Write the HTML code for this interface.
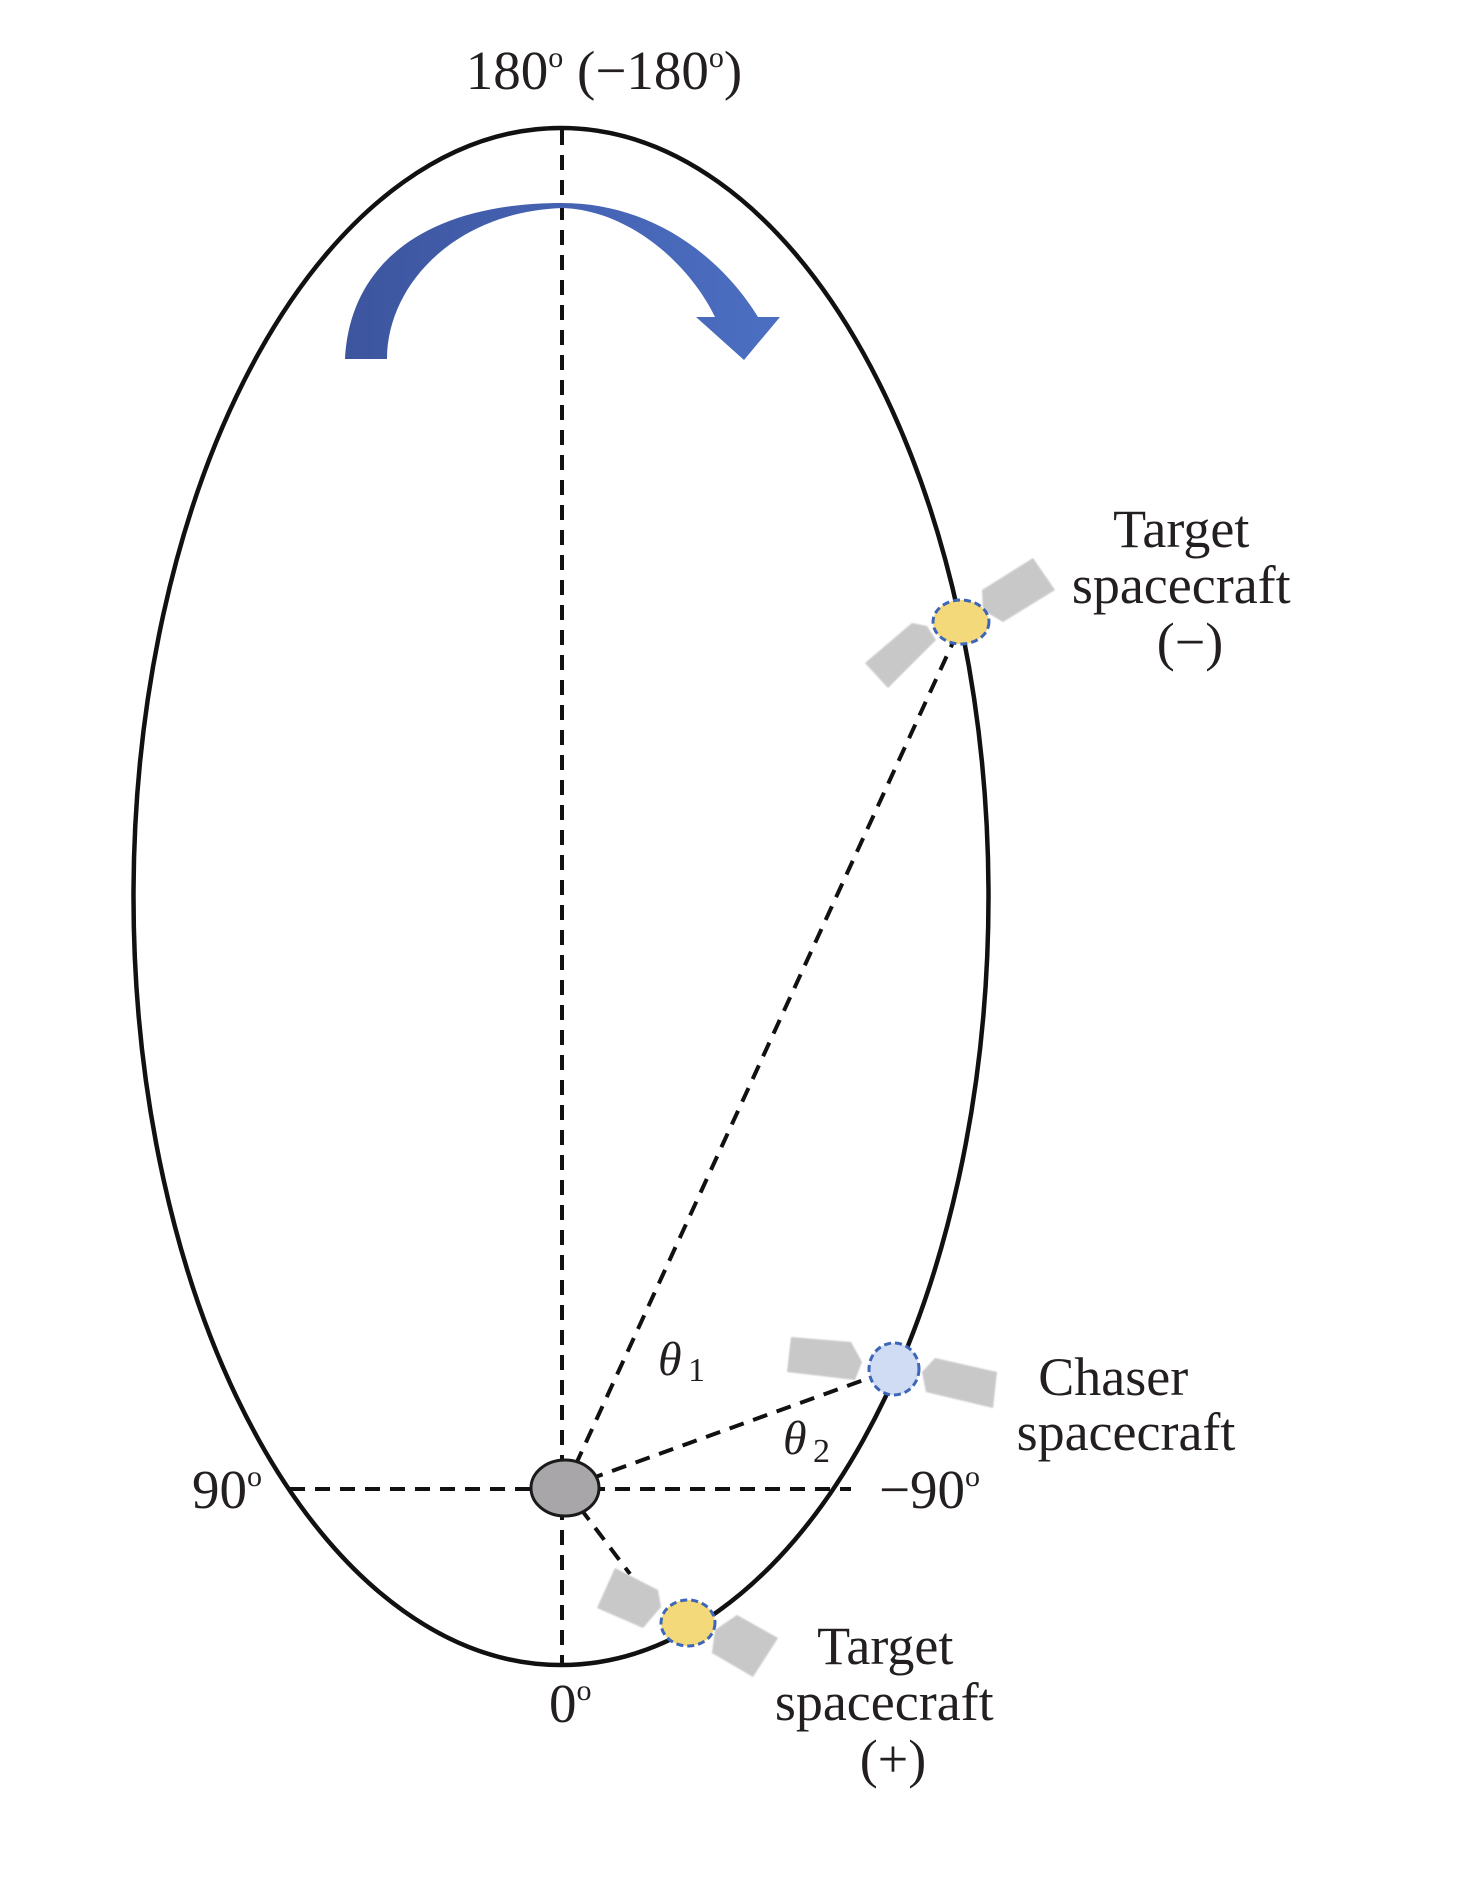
<!DOCTYPE html>
<html>
<head>
<meta charset="utf-8">
<style>
  html, body { margin:0; padding:0; background:#ffffff; }
  svg { display:block; }
  text { font-family: "Liberation Serif", "Times New Roman", serif; fill:#231f20; }
</style>
</head>
<body>
<svg width="1476" height="1892" viewBox="0 0 1476 1892" xmlns="http://www.w3.org/2000/svg">
  <defs>
    <linearGradient id="ag" x1="0" y1="0" x2="1" y2="0">
      <stop offset="0" stop-color="#3d559e"/>
      <stop offset="0.5" stop-color="#4562b2"/>
      <stop offset="1" stop-color="#4c6fc2"/>
    </linearGradient>
    <filter id="soft" x="-10%" y="-10%" width="120%" height="120%">
      <feGaussianBlur stdDeviation="0.8"/>
    </filter>
  </defs>
  <rect width="1476" height="1892" fill="#ffffff"/>

  <!-- Orbit ellipse -->
  <ellipse cx="561" cy="896.5" rx="427.5" ry="768.5" fill="none" stroke="#111" stroke-width="4.5"/>

  <!-- Dashed lines -->
  <g stroke="#111" stroke-width="4" stroke-dasharray="15 10" fill="none">
    <line x1="562" y1="130" x2="562" y2="1665"/>
    <line x1="290" y1="1489" x2="851" y2="1489"/>
    <line x1="565" y1="1488" x2="955" y2="638"/>
    <line x1="565" y1="1488" x2="872" y2="1377"/>
    <line x1="565" y1="1488" x2="630" y2="1574"/>
  </g>

  <!-- Blue rotation arrow -->
  <path fill="url(#ag)" d="M 345,359 C 350,260 430,203 562,203 C 650,203 720,255 758,317 L 780,317 L 744,360 L 696,317 L 715,317 C 690,265 630,210 562,208 C 455,212 387,285 387,359 Z"/>

  <!-- Earth -->
  <ellipse cx="565" cy="1488" rx="34" ry="28" fill="#a8a6a9" stroke="#1a1a1a" stroke-width="3"/>

  <!-- Target spacecraft (-) -->
  <g fill="#c9c8c9" filter="url(#soft)">
    <polygon points="865,663 912,623 927,626 936,640 888,688"/>
    <polygon points="982,590 1033,558 1055,590 1003,622 983,610"/>
  </g>
  <ellipse cx="961" cy="622" rx="28" ry="22" fill="#f3d97a" stroke="#3d66b8" stroke-width="3" stroke-dasharray="7 4"/>

  <!-- Chaser spacecraft -->
  <g fill="#c9c8c9" filter="url(#soft)">
    <polygon points="791,1337 851,1342 862,1362 855,1380 787,1372"/>
    <polygon points="935,1358 997,1372 993,1408 926,1392 922,1372"/>
  </g>
  <ellipse cx="894" cy="1369" rx="25" ry="26" fill="#cfdcf3" stroke="#3d66b8" stroke-width="3" stroke-dasharray="7 4"/>

  <!-- Target spacecraft (+) -->
  <g fill="#c9c8c9" filter="url(#soft)">
    <polygon points="615,1568 658,1590 661,1607 643,1628 597,1608"/>
    <polygon points="715,1630 737,1615 778,1638 753,1677 712,1653"/>
  </g>
  <ellipse cx="688" cy="1623" rx="27" ry="23" fill="#f3d97a" stroke="#3d66b8" stroke-width="3" stroke-dasharray="7 4"/>

  <!-- Labels -->
  <text x="604" y="89" font-size="55" text-anchor="middle">180<tspan font-size="30" dy="-22">o</tspan><tspan dy="22"> (−180</tspan><tspan font-size="30" dy="-22">o</tspan><tspan dy="22">)</tspan></text>

  <text x="262" y="1508" font-size="55" text-anchor="end">90<tspan font-size="30" dy="-22">o</tspan></text>
  <text x="879" y="1508" font-size="55">−90<tspan font-size="30" dy="-22">o</tspan></text>
  <text x="549" y="1722" font-size="55">0<tspan font-size="30" dy="-22">o</tspan></text>

  <text font-size="54" text-anchor="middle">
    <tspan x="1188" y="547">Target</tspan>
    <tspan x="1188" y="603">spacecraft</tspan>
    <tspan x="1190" y="660">(−)</tspan>
  </text>

  <text font-size="54" text-anchor="middle">
    <tspan x="1120" y="1395">Chaser</tspan>
    <tspan x="1126" y="1450">spacecraft</tspan>
  </text>

  <text font-size="54" text-anchor="middle">
    <tspan x="892" y="1664">Target</tspan>
    <tspan x="891" y="1720">spacecraft</tspan>
    <tspan x="893" y="1777">(+)</tspan>
  </text>

  <text x="658" y="1375" font-size="48" font-style="italic">θ</text>
  <text x="688" y="1381" font-size="34">1</text>
  <text x="783" y="1454" font-size="48" font-style="italic">θ</text>
  <text x="813" y="1462" font-size="34">2</text>
</svg>
</body>
</html>
